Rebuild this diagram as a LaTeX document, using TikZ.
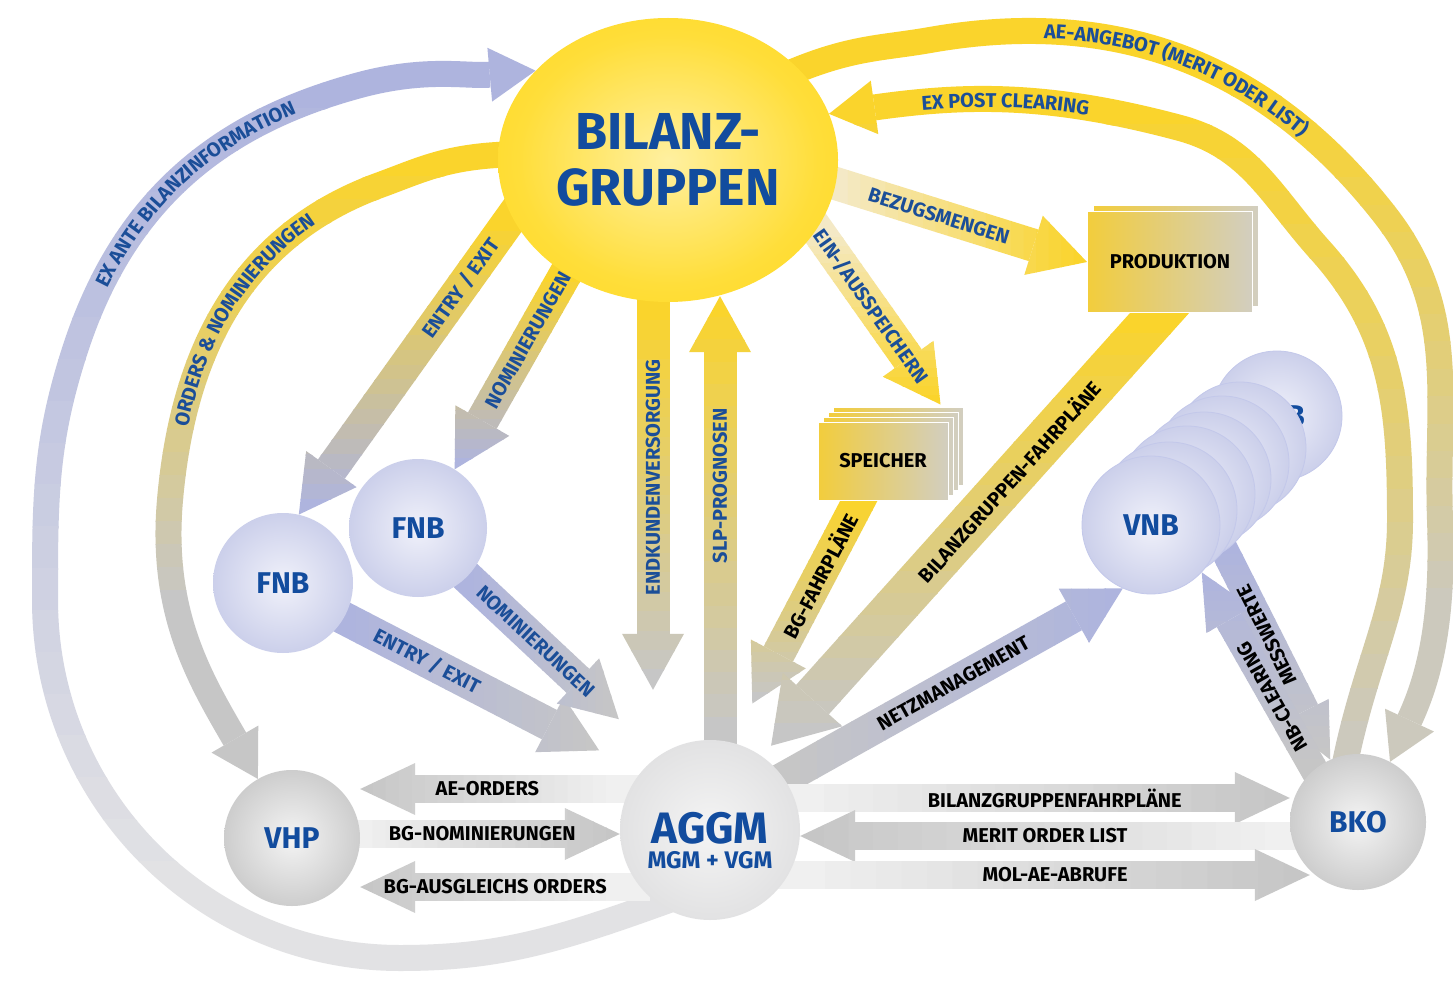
\documentclass[tikz,border=0pt]{standalone}
\usepackage{fontspec}
\setmainfont{Fira Sans}
\usepackage{xcolor}
\usetikzlibrary{calc,positioning,arrows.meta,shapes.geometric,decorations.text}

\definecolor{nodeblue}{HTML}{124C9E}
\definecolor{lblue}{HTML}{1B4E98}
\definecolor{sun}{HTML}{FFD000}
\definecolor{sunmid}{HTML}{FFDE3A}
\definecolor{sunlight}{HTML}{FFF0A0}
\definecolor{flowyellow}{HTML}{FAD42C}
\definecolor{paleyellow}{HTML}{F4E9C6}
\definecolor{flowlav}{HTML}{AEB4DE}
\definecolor{flowgrey}{HTML}{C6C6C6}
\definecolor{palegrey}{HTML}{F0F0F0}
\definecolor{exgrey}{HTML}{E2E2E4}
\definecolor{beige}{HTML}{CCC9BD}
\definecolor{lavcore}{HTML}{F0F1FA}
\definecolor{lavrim}{HTML}{A7AEDB}
\definecolor{vnbedge}{HTML}{C3C8EA}
\definecolor{greycore}{HTML}{F4F4F4}
\definecolor{greyrim}{HTML}{A6A6A6}
\definecolor{aggmrim}{HTML}{D0D0D2}
\definecolor{boxyellow}{HTML}{F2CD3C}
\definecolor{boxgrey}{HTML}{D2CEC0}

\pgfdeclarelayer{back}
\pgfsetlayers{back,main}

\pgfdeclareradialshading{sunglow}{\pgfpointorigin}{color(0bp)=(sunlight); color(22bp)=(sunmid); color(50bp)=(sun)}
\pgfdeclareradialshading{lavglow}{\pgfpointorigin}{color(0bp)=(lavcore); color(50bp)=(lavrim)}
\pgfdeclareradialshading{greyglow}{\pgfpointorigin}{color(0bp)=(greycore); color(50bp)=(greyrim)}
\pgfdeclareradialshading{aggmglow}{\pgfpointorigin}{color(0bp)=(greycore); color(50bp)=(aggmrim)}

\tikzset{
  sunball/.style={ellipse, shade, shading=sunglow, minimum width=340pt, minimum height=284pt,
    inner sep=0pt, align=center, text=nodeblue, font=\fontsize{52}{56}\selectfont\bfseries},
  netball/.style={circle, shade, shading=lavglow, inner sep=0pt, text=nodeblue,
    font=\fontsize{30}{30}\selectfont\bfseries},
  greyball/.style={circle, shade, shading=greyglow, minimum size=136pt, inner sep=0pt,
    text=nodeblue, font=\fontsize{30}{30}\selectfont\bfseries},
  store/.style={rectangle, left color=boxyellow, right color=boxgrey, draw=white, line width=1pt,
    inner sep=0pt, font=\fontsize{20}{20}\selectfont\bfseries},
  fat/.style={line width=33pt, -{Triangle[length=56pt, width=62pt, line width=0pt]}},
  wide/.style={line width=44pt, -{Triangle[length=62pt, width=80pt, line width=0pt]}},
  flat/.style={line width=28pt, -{Triangle[length=55pt, width=52pt, line width=0pt]}},
  sweep/.style={line width=26pt, -{Triangle[length=46pt, width=54pt, line width=0pt]}},
  tuck/.style={shorten <=-30pt},
  flowlbl/.style={sloped, inner sep=0pt, text=lblue, font=\fontsize{20}{20}\selectfont\bfseries},
  darklbl/.style={flowlbl, text=black},
  arclbl/.style={decorate, decoration={text along path, text align=center, raise=-7pt,
    text={|\fontsize{20}{20}\selectfont\bfseries\color{lblue}|#1}}},
}

% colour runs from top (#2) to bottom (#3); #4 first point, #5 rest of path
\newcommand\gradv[5]{%
  \path #4; \pgfgetlastxy{\flowx}{\flowp}%
  \path #4 #5; \pgfgetlastxy{\flowx}{\flowq}%
  \pgfmathsetlengthmacro\flowtop{max(\flowp,\flowq)}%
  \pgfmathsetlengthmacro\flowstep{abs(\flowp-\flowq)/20}%
  \foreach \k in {0,...,19}{%
    \pgfmathsetlengthmacro\flowa{\k==0 ? \flowtop+400pt : \flowtop-\k*\flowstep+0.6pt}%
    \pgfmathsetlengthmacro\flowb{\k==19 ? \flowtop-20*\flowstep-400pt : \flowtop-(\k+1)*\flowstep}%
    \pgfmathtruncatemacro\flowmix{100-100*\k/19}%
    \begin{scope}
      \clip (-300pt,\flowa) rectangle (1800pt,\flowb);
      \draw[#1,#2!\flowmix!#3] #4 #5;
    \end{scope}
  }%
}
% colour runs from left (#2) to right (#3)
\newcommand\gradh[5]{%
  \path #4; \pgfgetlastxy{\flowp}{\flowy}%
  \path #4 #5; \pgfgetlastxy{\flowq}{\flowy}%
  \pgfmathsetlengthmacro\flowleft{min(\flowp,\flowq)}%
  \pgfmathsetlengthmacro\flowstep{abs(\flowp-\flowq)/20}%
  \foreach \k in {0,...,19}{%
    \pgfmathsetlengthmacro\flowa{\k==0 ? \flowleft-400pt : \flowleft+\k*\flowstep-0.6pt}%
    \pgfmathsetlengthmacro\flowb{\k==19 ? \flowleft+20*\flowstep+400pt : \flowleft+(\k+1)*\flowstep}%
    \pgfmathtruncatemacro\flowmix{100-100*\k/19}%
    \begin{scope}
      \clip (\flowa,-1500pt) rectangle (\flowb,500pt);
      \draw[#1,#2!\flowmix!#3] #4 #5;
    \end{scope}
  }%
}

\begin{document}
\begin{tikzpicture}[x=1pt,y=-1pt]
  % Nodes
  \node[sunball] (bg) at (668,160) {BILANZ-\\GRUPPEN};
  \node[netball, minimum size=140pt] (fnbA) at (283,583) {FNB};
  \node[netball, minimum size=138pt] (fnbB) at (418,528) {FNB};
  \node[greyball] (vhp) at (292,838) {VHP};
  \node[greyball] (bko) at (1358,822) {BKO};
  \node[circle, shade, shading=aggmglow, minimum size=180pt, inner sep=0pt, align=center,
    text=nodeblue, font=\bfseries] (aggm) at (710,830)
    {\fontsize{44}{44}\selectfont\rule{0pt}{52pt}AGGM\\[6pt]\fontsize{24}{28}\selectfont MGM + VGM};

  % Storage and production stacks
  \foreach \i in {3,2,1}
    \node[store, minimum width=130pt, minimum height=78pt] at (883+5*\i,461-5*\i) {};
  \node[store, minimum width=130pt, minimum height=78pt] (spk) at (883,461) {SPEICHER};
  \node[store, minimum width=165pt, minimum height=100pt] at (1176,256) {};
  \node[store, minimum width=165pt, minimum height=100pt] (prod) at (1170,262) {PRODUKTION};

  % Distribution grid operators
  \foreach \nm/\cx/\cy/\dd/\txt in {vnb6/1277/416/130/VNB, vnb5/1240/448/132/{}, vnb4/1222/463/134/{},
      vnb3/1204/479/134/{}, vnb2/1187/494/136/{}, vnb1/1169/510/136/{}, vnb0/1151/525/138/VNB}
    \node[netball, draw=vnbedge, line width=0.8pt, minimum size=\dd pt] (\nm) at (\cx,\cy) {\txt};

  \coordinate (spktip) at ([shift={(-8pt,17pt)}]spk.north east);
  \coordinate (spkfoot) at ([xshift=-24pt]spk.south);
  \coordinate (prodfoot) at ([xshift=-10pt]prod.south);
  \coordinate (exA) at (400,958);
  \coordinate (exM) at (45,600);
  \coordinate (exB) at (75,350);
  \coordinate (exD) at (360,85);
  \coordinate (or1) at (380,185);
  \coordinate (or2) at (170,500);
  \coordinate (ae1) at (930,40);
  \coordinate (ae2) at (1385,215);
  \coordinate (ae3) at (1440,520);
  \coordinate (ep1) at (1400,520);
  \coordinate (ep2) at (1320,250);
  \coordinate (ep3) at (1180,128);

  \begin{pgfonlayer}{back}
    \fill[white] (0,0) rectangle (1453,984);
    % big sweeps
    \gradv{sweep, tuck}{flowlav}{exgrey}{(aggm.235)}{to[out=200,in=0] (exA) to[out=180,in=-90] (exM)
      to[out=90,in=252] (exB) to[out=72,in=195] (exD) to[out=15,in=185] (bg.146)}
    \gradv{sweep, tuck}{flowyellow}{flowgrey}{(bg.178)}{to[out=180,in=20] (or1) to[out=200,in=85] (or2)
      to[out=265,in=120] (vhp.120)}
    \gradv{sweep, tuck}{flowyellow}{beige}{(bg.35)}{to[out=25,in=190] (ae1) to[out=10,in=128] (ae2)
      to[out=-52,in=92] (ae3) to[out=-88,in=65] (bko.62)}
    \gradv{sweep, tuck}{flowyellow}{beige}{(bko.100)}{to[out=80,in=-90] (ep1) to[out=90,in=-48] (ep2)
      to[out=132,in=-15] (ep3) to[out=165,in=8] (bg.16)}
    % from and to the balance groups
    \gradv{fat, tuck}{flowyellow}{flowlav}{(bg.200)}{-- (fnbA.77)}
    \gradv{fat, tuck}{flowyellow}{flowlav}{(bg.228)}{-- (fnbB.58)}
    \gradv{fat, tuck}{flowyellow}{flowgrey}{([xshift=-15pt]bg.south)}{-- ([xshift=-57pt,yshift=50pt]aggm.north)}
    \gradv{fat, shorten <=-25pt}{flowyellow}{flowgrey}{([xshift=10pt]aggm.north)}{-- ([xshift=52pt,yshift=6pt]bg.south)}
    \gradv{fat, tuck}{paleyellow}{flowyellow}{(bg.-25)}{-- (spktip)}
    \gradh{fat, tuck}{paleyellow}{flowyellow}{(bg.-8)}{-- (prod.west)}
    \gradv{fat, shorten <=-20pt}{flowyellow}{flowgrey}{(spkfoot)}{-- ($(aggm.76)!44pt!(spkfoot)$)}
    \gradv{wide, shorten <=-20pt}{flowyellow}{flowgrey}{(prodfoot)}{-- ($(aggm.55)!14pt!(prodfoot)$)}
    % grid operators
    \gradh{fat, tuck}{flowgrey}{flowlav}{(aggm.35)}{-- (vnb0.246)}
    \gradv{flat, tuck}{flowlav}{flowgrey}{(vnb3.-75)}{-- (bko.114)}
    \gradv{flat, tuck}{flowlav}{flowgrey}{(bko.130)}{-- (vnb0.-43)}
    \gradh{fat, tuck}{flowlav}{flowgrey}{(fnbA.-30)}{-- ($(aggm.140)!47pt!(fnbA.-30)$)}
    \gradh{fat, tuck}{flowlav}{flowgrey}{(fnbB.-45)}{-- ($(aggm.125)!54pt!(fnbB.-45)$)}
    % market flows
    \gradh{flat, tuck}{flowgrey}{palegrey}{([yshift=41pt]aggm.west)}{-- ([yshift=49pt]vhp.east)}
    \gradh{flat, tuck}{palegrey}{flowgrey}{([yshift=4pt]vhp.east)}{-- ([yshift=-4pt]aggm.west)}
    \gradh{flat, tuck}{flowgrey}{palegrey}{([yshift=-57pt]aggm.west)}{-- ([yshift=-49pt]vhp.east)}
    \gradh{flat, tuck}{palegrey}{flowgrey}{([yshift=32pt]aggm.east)}{-- ([yshift=24pt]bko.west)}
    \gradh{flat, tuck}{flowgrey}{palegrey}{([yshift=-14pt]bko.west)}{-- ([yshift=-6pt]aggm.east)}
    \gradh{flat, tuck}{palegrey}{flowgrey}{([yshift=-45pt]aggm.east)}{-- ([xshift=20pt,yshift=-53pt]bko.west)}
  \end{pgfonlayer}

  % Labels
  \path[arclbl={EX ANTE BILANZINFORMATION}] (exB) to[out=72,in=195] (exD);
  \path[arclbl={ORDERS {\&} NOMINIERUNGEN}] (or2) to[out=85,in=200] (or1);
  \path[arclbl={AE-ANGEBOT (MERIT ODER LIST)}] (ae1) to[out=10,in=128] (ae2);
  \path[arclbl={EX POST CLEARING}] (bg.16) to[out=8,in=165] (ep3);
  \path (bg.200) -- (fnbA.77) node[flowlbl, pos=.24] {ENTRY / EXIT};
  \path (bg.228) -- (fnbB.58) node[flowlbl, pos=.34] {NOMINIERUNGEN};
  \path ([xshift=-57pt]aggm.north) -- ([xshift=-15pt]bg.south) node[flowlbl, pos=.6] {ENDKUNDENVERSORGUNG};
  \path ([xshift=10pt]aggm.north) -- ([xshift=52pt]bg.south) node[flowlbl, pos=.58] {SLP-PROGNOSEN};
  \path (bg.-25) -- (spktip) node[flowlbl, pos=.44] {EIN-/AUSSPEICHERN};
  \path (bg.-8) -- (prod.west) node[flowlbl, pos=.41] {BEZUGSMENGEN};
  \path (spkfoot) -- (aggm.76) node[darklbl, pos=.31] {BG-FAHRPLÄNE};
  \path (prodfoot) -- (aggm.55) node[darklbl, pos=.38] {BILANZGRUPPEN-FAHRPLÄNE};
  \path (aggm.35) -- (vnb0.246) node[darklbl, pos=.5] {NETZMANAGEMENT};
  \path[allow upside down] (bko.114) -- (vnb3.-75) node[darklbl, allow upside down, pos=.58] {MESSWERTE};
  \path[allow upside down] (bko.130) -- (vnb0.-43) node[darklbl, allow upside down, pos=.37] {NB-CLEARING};
  \path (fnbA.-30) -- (aggm.140) node[flowlbl, pos=.28] {ENTRY / EXIT};
  \path (fnbB.-45) -- (aggm.125) node[flowlbl, pos=.36] {NOMINIERUNGEN};
  \path ([yshift=41pt]aggm.west) -- ([yshift=49pt]vhp.east) node[darklbl, pos=.51] {AE-ORDERS};
  \path ([yshift=4pt]vhp.east) -- ([yshift=-4pt]aggm.west) node[darklbl, pos=.47] {BG-NOMINIERUNGEN};
  \path ([yshift=-57pt]aggm.west) -- ([yshift=-49pt]vhp.east) node[darklbl, pos=.48] {BG-AUSGLEICHS ORDERS};
  \path ([yshift=32pt]aggm.east) -- ([yshift=24pt]bko.west) node[darklbl, pos=.52] {BILANZGRUPPENFAHRPLÄNE};
  \path ([yshift=-14pt]bko.west) -- ([yshift=-6pt]aggm.east) node[darklbl, pos=.5] {MERIT ORDER LIST};
  \path ([yshift=-45pt]aggm.east) -- ([xshift=20pt,yshift=-53pt]bko.west) node[darklbl, pos=.5] {MOL-AE-ABRUFE};

  \pgfresetboundingbox
  \useasboundingbox (0,0) rectangle (1453,984);
\end{tikzpicture}
\end{document}
